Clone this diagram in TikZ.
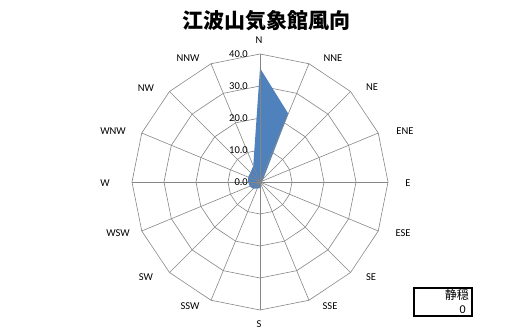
\documentclass[tikz,border=0pt]{standalone}
\usepackage{fontspec}
\setmainfont{Carlito}
\newfontfamily\jpfont{Noto Sans CJK JP}
\definecolor{windblue}{RGB}{79,129,189}
\definecolor{gridgray}{RGB}{134,134,134}
\begin{document}
\begin{tikzpicture}[x=1pt,y=1pt,
  ring/.style={color=gridgray,line width=0.6pt},
  spoke/.style={color=gridgray,line width=0.6pt},
  dirlabel/.style={font=\fontsize{10.5}{12}\selectfont,inner sep=0pt},
  ticklabel/.style={font=\fontsize{10.5}{12}\selectfont,inner sep=1pt,anchor=east}]
  \useasboundingbox (0,0) rectangle (511,333);
  \node[font=\jpfont\bfseries\fontsize{21}{24}\selectfont] (title) at (266,312) {江波山気象館風向};
  \begin{scope}[shift={(260,151)}]
    \coordinate (c) at (0,0);
    % rings at 10, 20, 30, 40
    \foreach \r in {32,64,96,128}
      \draw[ring] (90:\r) \foreach \k in {1,...,15} {-- (90-22.5*\k:\r)} -- cycle;
    % wind data
    \fill[windblue]
      \foreach \v [count=\k from 0] in {35.6,23.1,1.5,0.8,0.6,0.5,0.6,0.8,1.9,2.2,3.0,3.5,3.7,4.0,4.2,5.5}
        {\ifnum\k=0 (90:3.2*\v) \else -- (90-22.5*\k:3.2*\v) \fi} -- cycle;
    \foreach \k in {0,...,15}
      \draw[spoke] (c) -- (90-22.5*\k:128);
    \foreach \t [count=\i from 0] in {0.0,10.0,20.0,30.0,40.0}
      \node[ticklabel] (t\i) at (-11,32*\i) {\t};
  \end{scope}
  \foreach \d/\x/\y in {N/259/293,NNE/333/275,NE/372/246,ENE/405/202,E/408/150,ESE/403/100,SE/371/56,SSE/330/27,
                        S/259/9,SSW/190/27,SW/146/56,WSW/118/100,W/105/150,WNW/113/202,NW/146/245,NNW/188/275}
    \node[dirlabel] (l\d) at (\x,\y) {\d};
  \node[draw,line width=2pt,minimum width=58,minimum height=28] (calm) at (443,31) {};
  \node[font=\jpfont\fontsize{12}{14}\selectfont,anchor=east,inner sep=0pt] (calmname) at (469,38) {静穏};
  \node[font=\fontsize{12}{14}\selectfont,anchor=east,inner sep=0pt] (calmval) at (466,23.5) {0};
\end{tikzpicture}
\end{document}
